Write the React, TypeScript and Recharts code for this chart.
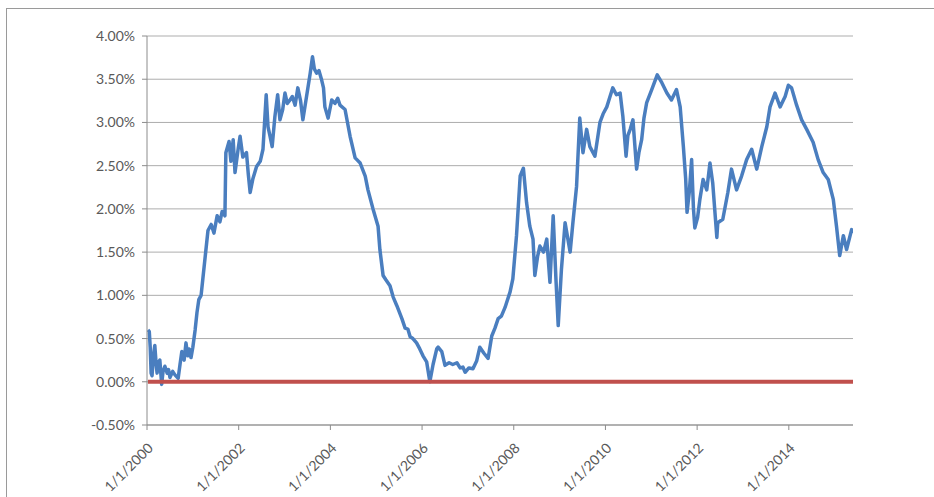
import { CartesianGrid, Line, LineChart, XAxis, YAxis } from 'recharts'

// years since 1/1/2000
const yearsSince2000 = [
  0.02, 0.05, 0.07, 0.09, 0.11, 0.14, 0.17, 0.2, 0.22, 0.25, 0.28, 0.32, 0.35, 0.39, 0.44, 0.47, 0.5, 0.56, 0.61,
  0.68, 0.72, 0.76, 0.81, 0.85, 0.89, 0.92, 0.96, 1.0, 1.05, 1.09, 1.13, 1.18, 1.22, 1.27, 1.33, 1.4, 1.46, 1.53,
  1.59, 1.64, 1.7, 1.72, 1.79, 1.83, 1.88, 1.92, 1.99, 2.03, 2.09, 2.17, 2.21, 2.25, 2.31, 2.39, 2.47, 2.53, 2.6,
  2.64, 2.68, 2.73, 2.79, 2.85, 2.9, 2.96, 3.01, 3.06, 3.12, 3.17, 3.23, 3.29, 3.35, 3.4, 3.48, 3.56, 3.61, 3.65,
  3.7, 3.75, 3.81, 3.85, 3.88, 3.95, 4.03, 4.1, 4.16, 4.21, 4.32, 4.43, 4.54, 4.65, 4.76, 4.82, 4.93, 5.04, 5.08,
  5.15, 5.21, 5.3, 5.37, 5.45, 5.56, 5.63, 5.69, 5.74, 5.8, 5.88, 5.95, 6.02, 6.1, 6.17, 6.24, 6.32, 6.35, 6.43,
  6.5, 6.59, 6.67, 6.76, 6.83, 6.89, 6.94, 7.02, 7.11, 7.19, 7.26, 7.35, 7.44, 7.52, 7.59, 7.66, 7.73, 7.81, 7.92,
  7.98, 8.06, 8.14, 8.21, 8.28, 8.35, 8.42, 8.46, 8.52, 8.57, 8.65, 8.72, 8.79, 8.86, 8.92, 8.97, 9.04, 9.12, 9.23,
  9.29, 9.37, 9.44, 9.51, 9.59, 9.66, 9.77, 9.88, 9.95, 10.03, 10.1, 10.16, 10.24, 10.32, 10.38, 10.45, 10.49,
  10.54, 10.6, 10.68, 10.73, 10.79, 10.84, 10.9, 11.01, 11.13, 11.23, 11.34, 11.44, 11.55, 11.63, 11.7, 11.75,
  11.78, 11.83, 11.88, 11.92, 11.95, 12.01, 12.06, 12.13, 12.21, 12.28, 12.34, 12.43, 12.45, 12.56, 12.67, 12.75,
  12.86, 12.97, 13.08, 13.19, 13.3, 13.41, 13.52, 13.59, 13.7, 13.81, 13.92, 13.99, 14.06, 14.17, 14.28, 14.39,
  14.53, 14.64, 14.75, 14.86, 14.97, 15.04, 15.11, 15.19, 15.26, 15.37, 15.4
]

// rate in %
const rates = [
  0.6, 0.58, 0.4, 0.1, 0.07, 0.3, 0.42, 0.2, 0.1, 0.22, 0.25, -0.03, 0.12, 0.18, 0.1, 0.14, 0.05, 0.12, 0.08,
  0.04, 0.2, 0.35, 0.25, 0.45, 0.3, 0.38, 0.28, 0.4, 0.6, 0.8, 0.95, 1.0, 1.2, 1.45, 1.75, 1.82, 1.72, 1.92,
  1.85, 1.97, 1.92, 2.65, 2.78, 2.55, 2.8, 2.42, 2.7, 2.84, 2.6, 2.65, 2.4, 2.19, 2.35, 2.49, 2.55, 2.69, 3.32,
  2.95, 2.85, 2.72, 3.07, 3.32, 3.03, 3.15, 3.34, 3.22, 3.26, 3.3, 3.2, 3.4, 3.25, 3.03, 3.3, 3.57, 3.76, 3.62,
  3.57, 3.6, 3.49, 3.4, 3.18, 3.05, 3.26, 3.22, 3.28, 3.2, 3.15, 2.84, 2.59, 2.53, 2.38, 2.22, 2.0, 1.8, 1.53,
  1.23, 1.18, 1.11, 0.98, 0.88, 0.73, 0.62, 0.61, 0.52, 0.5, 0.45, 0.38, 0.3, 0.23, 0.0, 0.2, 0.38, 0.4, 0.35,
  0.19, 0.22, 0.2, 0.22, 0.16, 0.17, 0.11, 0.16, 0.15, 0.24, 0.4, 0.33, 0.27, 0.53, 0.62, 0.73, 0.76, 0.86, 1.04,
  1.19, 1.69, 2.38, 2.47, 2.07, 1.8, 1.65, 1.23, 1.45, 1.57, 1.5, 1.65, 1.15, 1.92, 1.19, 0.65, 1.3, 1.84, 1.5,
  1.84, 2.26, 3.05, 2.65, 2.92, 2.72, 2.61, 3.0, 3.1, 3.18, 3.3, 3.4, 3.32, 3.34, 3.07, 2.61, 2.85,
  2.92, 3.03, 2.46, 2.65, 2.8, 3.05, 3.23, 3.38, 3.55, 3.46, 3.34, 3.26, 3.38, 3.18, 2.72, 2.35,
  1.96, 2.2, 2.57, 2.0, 1.78, 1.9, 2.11, 2.34, 2.22, 2.53, 2.3, 1.67, 1.84, 1.88, 2.19, 2.46,
  2.22, 2.38, 2.57, 2.69, 2.46, 2.72, 2.95, 3.18, 3.34, 3.18, 3.3, 3.43, 3.4, 3.2, 3.03, 2.92,
  2.77, 2.57, 2.42, 2.34, 2.11, 1.8, 1.46, 1.69, 1.53, 1.76, 1.72
]

const baseline = 0
const yTicks = [-0.5, 0, 0.5, 1, 1.5, 2, 2.5, 3, 3.5, 4]
const xTicks = [0, 2, 4, 6, 8, 10, 12, 14]
const xTickLabels = ['1/1/2000', '1/1/2002', '1/1/2004', '1/1/2006', '1/1/2008', '1/1/2010', '1/1/2012', '1/1/2014']

const rows = yearsSince2000.map((t, i) => ({ t, rate: rates[i], base: baseline }))

const tickStyle = { fill: '#595959', fontSize: 14, fontFamily: 'Lato, "Open Sans", sans-serif' }

export default function App() {
  return (
    <div style={{ position: 'absolute', left: 0, top: 0, width: 934, height: 497, overflow: 'hidden', background: '#fff' }}>
      <div
        style={{
          position: 'absolute',
          left: 6,
          top: 8,
          width: 960,
          height: 520,
          border: '1px solid #9a9a9a'
        }}
      />
      <div style={{ position: 'absolute', left: 0, top: 0 }}>
        <LineChart width={934} height={497} data={rows} margin={{ top: 36, right: 81, bottom: 0, left: 0 }}>
          <CartesianGrid vertical={false} stroke="#adadad" strokeWidth={1} />
          <XAxis
            dataKey="t"
            type="number"
            domain={[0, 15.4]}
            ticks={xTicks}
            tickFormatter={(v: number) => xTickLabels[xTicks.indexOf(v)] ?? ''}
            height={72}
            angle={-45}
            textAnchor="end"
            tickSize={5}
            tickMargin={12}
            tick={tickStyle}
            stroke="#8c8c8c"
            allowDataOverflow
          />
          <YAxis
            type="number"
            domain={[-0.5, 4]}
            ticks={yTicks}
            tickFormatter={(v: number) => `${v.toFixed(2)}%`}
            width={147}
            tickSize={5}
            tickMargin={7}
            tick={tickStyle}
            stroke="#8c8c8c"
          />
          <Line
            dataKey="rate"
            stroke="#4A7EBF"
            strokeWidth={3.5}
            dot={false}
            strokeLinejoin="round"
            isAnimationActive={false}
          />
          <Line dataKey="base" stroke="#C0504D" strokeWidth={4} dot={false} isAnimationActive={false} />
        </LineChart>
      </div>
    </div>
  )
}
